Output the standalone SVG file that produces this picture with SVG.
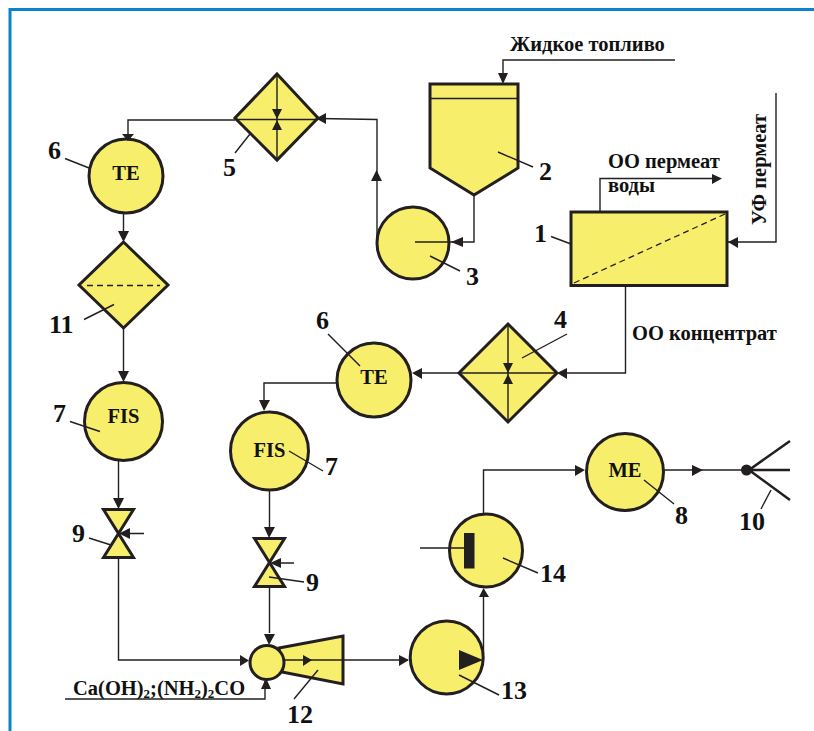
<svg xmlns="http://www.w3.org/2000/svg" width="814" height="731" viewBox="0 0 814 731">
<style>
text{font-family:"Liberation Serif","Times New Roman",serif;font-weight:bold;fill:#111}
.n{font-size:26px}
.t{font-size:20.500px;text-anchor:middle}
.c{font-size:20.500px}
.s{fill:#f7ef6b;stroke:#231f20;stroke-width:3;stroke-linejoin:miter}
.l{fill:none;stroke:#231f20;stroke-width:1.4}
.d{fill:none;stroke:#231f20;stroke-width:1.3;stroke-dasharray:6 4}
.h{fill:#231f20;stroke:none}
</style>
<defs>
<path id="v" d="M-15-24H15L-15 24H15Z"/>
</defs>
<rect width="814" height="731" fill="#fff"/>
<path d="M10 731V9.500H814" fill="none" stroke="#0b82cc" stroke-width="3"/>
<g id="node-1"><rect class="s" x="571" y="212" width="156" height="73.500"/><path class="d" d="M574 283L725 214"/><path class="l" d="M551 236.500L571 244"/><text class="n" x="534" y="242">1</text></g>
<g id="node-2"><path class="s" d="M430 84H518V168L474 195L430 168Z"/><path class="l" d="M430 98.500H518M498 152L533 167"/><text class="n" x="539" y="180">2</text></g>
<g id="node-3"><circle class="s" cx="413" cy="243" r="36"/><path class="l" d="M430 256L460 271"/><text class="n" x="466" y="285">3</text></g>
<g id="node-4"><path class="s" d="M508 324L557 373L508 422L459 373Z"/><path class="l" d="M508 324V422M459 373H557M522 358L567 334"/><text class="n" x="554" y="328">4</text></g>
<g id="node-5"><path class="s" d="M277 74L318 118L277 160L235 118Z"/><path class="l" d="M277 74V160M235 119.500H318M235 153L250 134"/><text class="n" x="223" y="176">5</text></g>
<g id="node-6a"><circle class="s" cx="126" cy="176" r="37"/><path class="l" d="M65 158.500L89 168"/><text class="t" x="126" y="180">TE</text><text class="n" x="48" y="159">6</text></g>
<g id="node-6b"><circle class="s" cx="374" cy="380" r="37"/><path class="l" d="M328 334L360 366"/><text class="t" x="374" y="384">TE</text><text class="n" x="316" y="329">6</text></g>
<g id="node-11"><path class="s" d="M123.500 242L168 285L123.500 328L79 285Z"/><path class="d" d="M87 285.500H160"/><path class="l" d="M84 319.500L114 304.500"/><text class="n" x="49" y="333">11</text></g>
<g id="node-7a"><circle class="s" cx="123.500" cy="421.500" r="39"/><path class="l" d="M70 421.500L100 431.500"/><text class="t" x="123.500" y="423">FIS</text><text class="n" x="53" y="422">7</text></g>
<g id="node-7b"><circle class="s" cx="269.500" cy="451" r="39"/><path class="l" d="M289 451L323 471"/><text class="t" x="269.500" y="457">FIS</text><text class="n" x="325" y="475">7</text></g>
<g id="node-9a"><use class="s" href="#v" x="118.500" y="533.500"/><path class="l" d="M144 533.500H125M89 538L111 545"/><path class="h" d="M119 533.500L130 528V539Z"/><text class="n" x="72" y="542">9</text></g>
<g id="node-9b"><use class="s" href="#v" x="269.500" y="562.500"/><path class="l" d="M294 563H276M269 577L304 582"/><path class="h" d="M270 563L281 558V568Z"/><text class="n" x="306" y="591">9</text></g>
<g id="node-12"><path class="s" d="M279 648L343 636V684L282 672Z"/><circle class="s" cx="267" cy="662.500" r="17"/><path class="l" d="M318 670L294 699"/><text class="n" x="287" y="723">12</text></g>
<g id="node-13"><circle class="s" cx="446.700" cy="657.500" r="36.500"/><path class="h" d="M459 650V670L483 660Z"/><path class="l" d="M459 675L499 695"/><text class="n" x="501" y="699">13</text></g>
<g id="node-14"><circle class="s" cx="486" cy="550.500" r="36.500"/><rect class="h" x="464" y="533" width="10.500" height="35.500"/><path class="l" d="M420 548H464M503 558L538 573"/><text class="n" x="540" y="582">14</text></g>
<g id="node-8"><circle class="s" cx="625" cy="472" r="38.500"/><text class="t" x="625" y="477">ME</text><path class="l" d="M644 480L674 504"/><text class="n" x="675" y="524">8</text></g>
<g id="node-10"><circle class="h" cx="746.500" cy="470" r="5.500"/><path d="M749 470L790 441M749 470H790M749 470L790 500" fill="none" stroke="#231f20" stroke-width="2.500"/><path class="l" d="M761 509L771 490"/><text class="n" x="739" y="530">10</text></g>
<g id="connectors">
<path class="l" d="M675 60H503V80M474 195V242H415M377 240V119.500L318 118.500M235 120H128V139M123.500 213V238M123.500 328V378M118.500 460V505M118.500 558V660H247M337 383H264V408M269.500 490V534M269.500 587V633M625.500 285.500V373H559M459 373H416M65 699H265V681M284 660H408M483.500 655V590M483.500 514V470H583M664 470H746M600 212V178.500H718M727 242H776V93"/>
<path class="h" d="M503 84L498 73H508ZM451 242L463 237V247ZM376.500 170L371 181H382ZM316 118.500L326 113V124ZM128 141L122 134H134ZM123.500 242L118 231H129ZM123.500 382L118 371H129ZM118.500 509L113 498H124ZM269 538L264 527H275ZM269 645L264 634H275ZM264 411L259 400H270ZM249 660.500L240 655V666ZM266 678L261 689H271ZM312 660L303 655V666ZM409 660L399 655V666ZM483.500 588L479 597H489ZM585 470L575 465V476ZM703 470L692 465V476ZM557 373L567 368V379ZM412 373L422 368V379ZM728 242L738 237V248ZM722 178.500L712 174V184Z"/>
<path class="h" d="M277 119L272 109H282ZM277 120L272 130H282ZM508 373L503 363H513ZM508 374L503 384H513Z"/>
</g>
<g id="labels">
<text class="c" x="510" y="51">Жидкое топливо</text>
<text class="c" x="608" y="168">ОО пермеат</text>
<text class="c" x="608" y="192">воды</text>
<text class="c" x="632" y="340">ОО концентрат</text>
<text class="c" transform="translate(766 225) rotate(-90)">УФ пермеат</text>
<text class="c" x="73" y="695">Ca(OH)<tspan font-size="13" dy="3">2</tspan><tspan dy="-3">;(NH</tspan><tspan font-size="13" dy="3">2</tspan><tspan dy="-3">)</tspan><tspan font-size="13" dy="3">2</tspan><tspan dy="-3">CO</tspan></text>
</g>
</svg>
